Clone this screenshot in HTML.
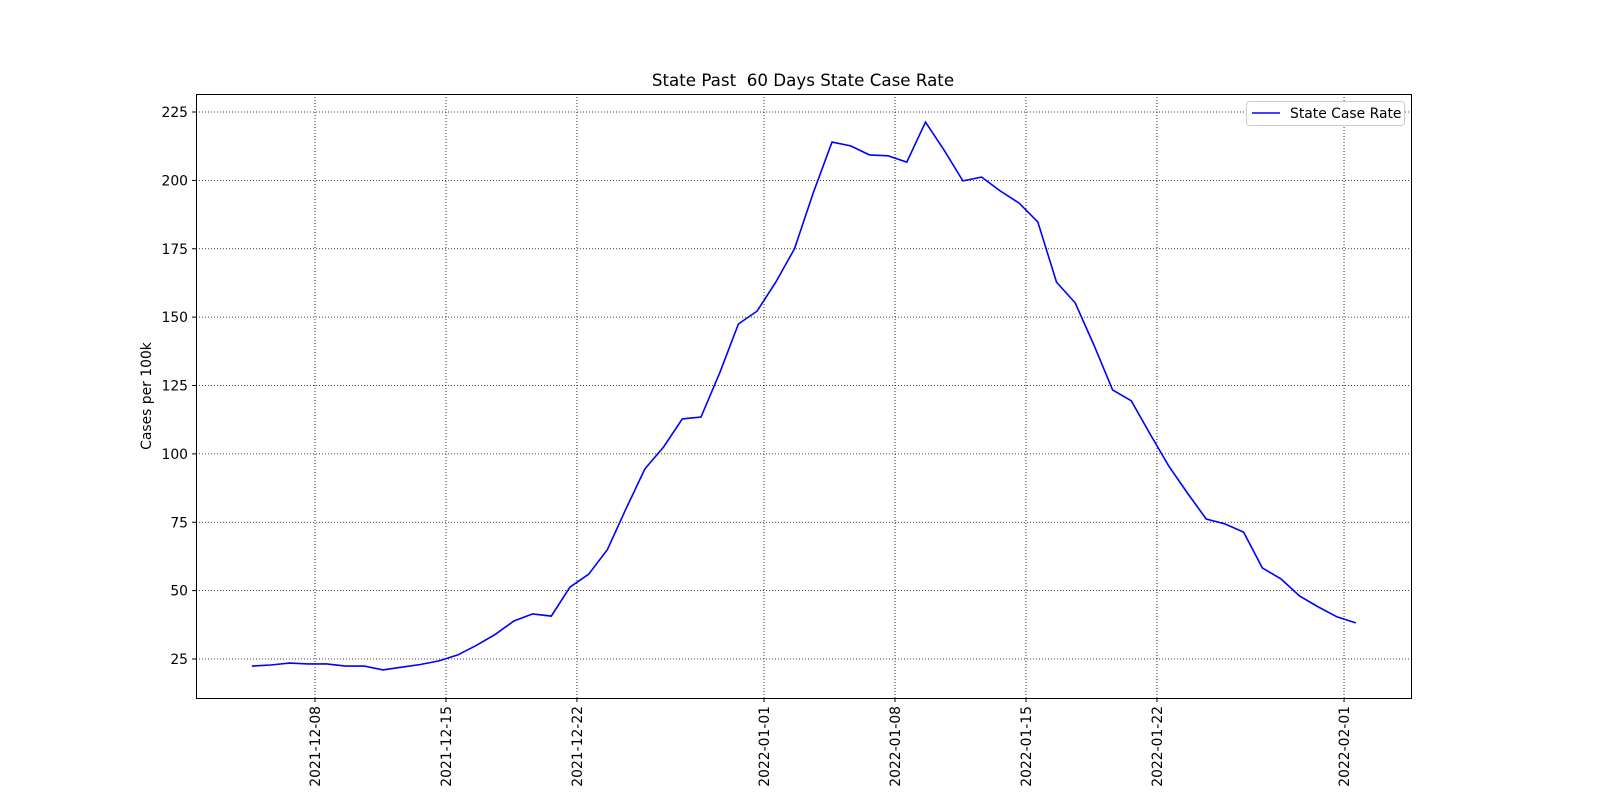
<!DOCTYPE html>
<html><head><meta charset="utf-8"><style>
html,body{margin:0;padding:0;background:#fff;}
svg{display:block;font-family:"DejaVu Sans","Liberation Sans",sans-serif;}
</style></head><body>
<svg id="chart" width="1600" height="800" viewBox="0 0 1600 800">
<rect x="0" y="0" width="1600" height="800" fill="#fff"/>
<text x="803" y="86" text-anchor="middle" font-size="16.7" style="white-space:pre" xml:space="preserve">State Past  60 Days State Case Rate</text>
<g id="grid"></g>
<g id="yticks"></g>
<g id="xticks"></g>
<polyline id="line" fill="none" stroke="#0000ff" stroke-width="1.6"/>
<rect x="196.5" y="94.5" width="1215" height="604" fill="none" stroke="#000" stroke-width="1"/>
<text transform="translate(151,396) rotate(-90)" text-anchor="middle" font-size="13.9">Cases per 100k</text>
<g>
<rect x="1246.5" y="101.5" width="158" height="24" rx="3" fill="#fff" stroke="#ccc"/>
<line x1="1252" y1="113" x2="1280" y2="113" stroke="#0000ff" stroke-width="1.6"/>
<text x="1290" y="118" font-size="13.9">State Case Rate</text>
</g>
</svg>
<script>
const values = [22.4,22.8,23.5,23.2,23.2,22.4,22.4,21,22,23,24.3,26.5,30,34,38.9,41.5,40.7,51.3,56,65,80,94.5,102.5,112.8,113.5,129.6,147.5,152.2,162.8,175,195.4,214,212.6,209.3,209,206.7,221.3,211,199.8,201.2,196.1,191.7,184.8,162.8,155.2,139.8,123.4,119.4,107.3,95.6,85.7,76.2,74.4,71.4,58.3,54.3,48,44,40.4,38.2];
const startDay = -4; // days relative to 2021-12-08
const dayOffset = 0.63;
const xTickLabels = ["2021-12-08","2021-12-15","2021-12-22","2022-01-01","2022-01-08","2022-01-15","2022-01-22","2022-02-01"];
const xTickDays = [0,7,14,24,31,38,45,55];
const yTicks = [25,50,75,100,125,150,175,200,225];
const NS="http://www.w3.org/2000/svg";
const xs = d => 315 + d*18.71;
const ys = v => 112 + (225-v)*2.735;
const grid=document.getElementById('grid'), yt=document.getElementById('yticks'), xt=document.getElementById('xticks');
function mk(tag,attrs,parent){const e=document.createElementNS(NS,tag);for(const k in attrs)e.setAttribute(k,attrs[k]);parent.appendChild(e);return e;}
yTicks.forEach(v=>{
  const y=ys(v);
  const g=mk('line',{x1:196,x2:1411,y1:y,y2:y,stroke:'#000','stroke-width':0.8,'stroke-dasharray':'1,2'},grid);
  
  
  mk('line',{x1:192,x2:196,y1:y,y2:y,stroke:'#000'},yt);
  const t=mk('text',{x:188,y:y+5,'text-anchor':'end','font-size':13.9},yt);
  t.textContent=v;
  
  
});
xTickDays.forEach((d,i)=>{
  const x=xs(d);
  const g=mk('line',{x1:x,x2:x,y1:94,y2:698,stroke:'#000','stroke-width':0.8,'stroke-dasharray':'1,2'},grid);
  
  
  mk('line',{x1:x,x2:x,y1:698,y2:702,stroke:'#000'},xt);
  const t=mk('text',{transform:`translate(${x+5},706) rotate(-90)`,'text-anchor':'end','font-size':13.9},xt);
  t.textContent=xTickLabels[i];
  
  
});
document.getElementById('line').setAttribute('points',values.map((v,i)=>xs(startDay+i+dayOffset).toFixed(1)+','+ys(v).toFixed(1)).join(' '));
</script>
</body></html>
